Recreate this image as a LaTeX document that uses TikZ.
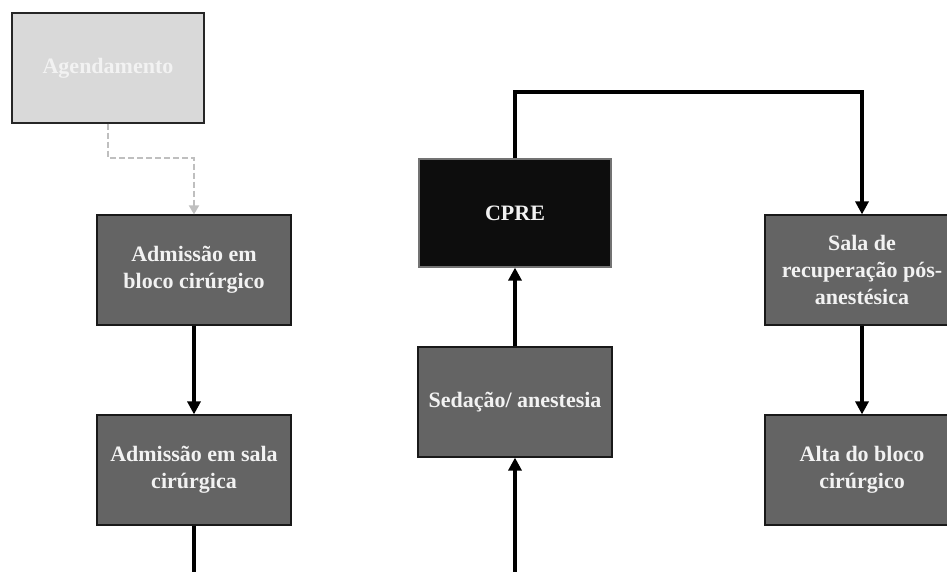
\documentclass[tikz,border=0pt]{standalone}
\usepackage{fontspec}
\setmainfont{Liberation Serif}
\usetikzlibrary{arrows.meta}

\definecolor{boxgray}{HTML}{646464}
\definecolor{lightbox}{HTML}{D9D9D9}
\definecolor{boxtext}{HTML}{F2F2F2}
\definecolor{dashgray}{HTML}{BFBFBF}
\definecolor{blackbox}{HTML}{0D0D0D}

\tikzset{
  stage/.style={draw=black!90, line width=1.2pt, fill=boxgray,
    text=boxtext, font=\fontsize{22}{27}\selectfont\bfseries,
    align=center, minimum width=194pt, minimum height=110pt,
    inner sep=0pt},
  faded/.style={stage, fill=lightbox, draw=black!85, minimum width=192pt},
  dark/.style={stage, fill=blackbox, draw=black!55, minimum width=192pt,
    minimum height=108pt},
  flow/.style={line width=3.2pt, -{Triangle[width=13pt,length=13pt]}},
  plainflow/.style={line width=3.2pt},
  dashflow/.style={dashgray, line width=2pt, dash pattern=on 6pt off 3pt,
    -{Triangle[width=10pt,length=9pt]}}
}

\begin{document}
\begin{tikzpicture}[x=1pt, y=-1pt]
  \useasboundingbox (0,0) rectangle (947,572);
  \clip (0,0) rectangle (947,572);

  % process stages
  \node[faded] (ag) at (108,68) {Agendamento};
  \node[stage] (adm1) at (194,270) {Admissão em\\bloco cirúrgico};
  \node[stage] (adm2) at (194,470) {Admissão em sala\\cirúrgica};
  \node[dark]  (cpre) at (515,213) {CPRE};
  \node[stage] (sed)  at (515,402) {Sedação/ anestesia};
  \node[stage] (sala) at (862,270) {Sala de\\recuperação pós-\\anestésica};
  \node[stage] (alta) at (862,470) {Alta do bloco\\cirúrgico};

  % loose ends leaving the bottom edge
  \coordinate (out1) at (194,580);
  \coordinate (in2)  at (515,580);
  \coordinate (bend) at (515,92);

  % connectors
  \draw[dashflow] (ag.south) -- ++(0,34) -| (adm1.north);
  \draw[flow] (adm1) -- (adm2);
  \draw[plainflow] (adm2.south) -- (out1);
  \draw[flow] (in2) -- (sed.south);
  \draw[flow] (sed) -- (cpre);
  \draw[flow] (cpre.north) -- (bend) -| (sala.north);
  \draw[flow] (sala) -- (alta);
\end{tikzpicture}
\end{document}
